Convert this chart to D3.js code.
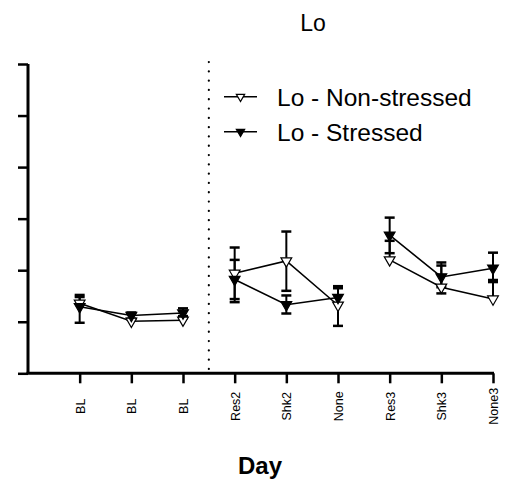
<!DOCTYPE html>
<html>
<head>
<meta charset="utf-8">
<script src="https://cdn.jsdelivr.net/npm/d3@7"></script>
<style>
  html, body { margin: 0; padding: 0; background: #fff; }
  svg { display: block; font-family: "Liberation Sans", Arial, sans-serif; }
</style>
</head>
<body>
<svg id="chart" width="508" height="482"></svg>
<script>
// ---- data ----
const categories = ["BL", "BL", "BL", "Res2", "Shk2", "None", "Res3", "Shk3", "None3"];
const segments = [[0, 3], [3, 6], [6, 9]]; // connected groups: baseline, day 2, day 3
const yTicks = [0, 1, 2, 3, 4, 5, 6];

const seriesNames = ["Lo - Non-stressed", "Lo - Stressed"];

const nonStressed      = [1.36, 1.01, 1.03, 1.94, 2.18, 1.32, 2.20, 1.67, 1.44];
const nonStressedUp    = [0.16, 0.04, 0.04, 0.50, 0.57, 0.33, 0.37, 0.42, 0.37];
const nonStressedDown  = [0.00, 0.00, 0.00, 0.50, 0.58, 0.40, 0.00, 0.12, 0.00];

const stressed         = [1.29, 1.12, 1.17, 1.82, 1.33, 1.47, 2.68, 1.87, 2.04];
const stressedUp       = [0.19, 0.06, 0.09, 0.38, 0.18, 0.22, 0.34, 0.28, 0.30];
const stressedDown     = [0.31, 0.06, 0.06, 0.44, 0.17, 0.00, 0.35, 0.20, 0.27];

const separatorAt = 3.5; // dotted vertical line between baseline and test days

// ---- layout ----
const svg = d3.select("#chart");
const x = d3.scaleLinear().domain([0, categories.length]).range([28, 493]);
const y = d3.scaleLinear().domain([0, 6]).range([373.3, 64]);

const series = [
  { name: seriesNames[0], values: nonStressed, up: nonStressedUp, down: nonStressedDown, fill: "#fff" },
  { name: seriesNames[1], values: stressed, up: stressedUp, down: stressedDown, fill: "#000" }
];

// title
svg.append("text")
  .attr("x", 313).attr("y", 31)
  .attr("text-anchor", "middle")
  .attr("font-size", 23)
  .text("Lo");

// dotted separator
svg.append("line")
  .attr("x1", x(separatorAt)).attr("x2", x(separatorAt))
  .attr("y1", y(6) - 2).attr("y2", y(0))
  .attr("stroke", "#000")
  .attr("stroke-width", 2.2)
  .attr("stroke-linecap", "round")
  .attr("stroke-dasharray", "0.1,9.2");

// y axis
const yAxis = d3.axisLeft(y).tickValues(yTicks).tickSize(10).tickFormat("");
const gy = svg.append("g").attr("transform", `translate(${x(0)},0)`).call(yAxis);
gy.select(".domain").attr("stroke-width", 3).attr("d", `M0,${y(6)}V${y(0)}`);
gy.selectAll(".tick line").attr("stroke-width", 2.5);

// x axis
const xAxis = d3.axisBottom(x).tickValues(d3.range(1, categories.length + 1))
  .tickSize(10).tickFormat(d => categories[d - 1]);
const gx = svg.append("g").attr("transform", `translate(0,${y(0)})`).call(xAxis);
gx.select(".domain").attr("stroke-width", 3).attr("d", `M${x(0) - 1.5},0H${x(categories.length) + 1}`);
gx.selectAll(".tick line").attr("stroke-width", 2.5);
gx.selectAll(".tick text")
  .attr("font-size", 12.5)
  .attr("font-family", "Liberation Sans, Arial, sans-serif")
  .attr("transform", "translate(0,33) rotate(-90)")
  .attr("x", 0).attr("y", 0)
  .attr("dy", "0.35em")
  .attr("text-anchor", "middle");

// x axis title
svg.append("text")
  .attr("x", 260).attr("y", 474)
  .attr("text-anchor", "middle")
  .attr("font-size", 24)
  .attr("font-weight", "bold")
  .text("Day");

const tri = d3.symbol().type(d3.symbolTriangle).size(50);
const triSmall = d3.symbol().type(d3.symbolTriangle).size(30);
const line = d3.line().x(d => x(d.i + 1)).y(d => y(d.v));
const capW = 5;

series.forEach(s => {
  const g = svg.append("g");
  // error bars
  s.values.forEach((v, i) => {
    const cx = x(i + 1);
    if (s.up[i] > 0) {
      g.append("line").attr("x1", cx).attr("x2", cx).attr("y1", y(v)).attr("y2", y(v + s.up[i]))
        .attr("stroke", "#000").attr("stroke-width", 2);
      g.append("line").attr("x1", cx - capW).attr("x2", cx + capW).attr("y1", y(v + s.up[i])).attr("y2", y(v + s.up[i]))
        .attr("stroke", "#000").attr("stroke-width", 2.5);
    }
    if (s.down[i] > 0) {
      g.append("line").attr("x1", cx).attr("x2", cx).attr("y1", y(v)).attr("y2", y(v - s.down[i]))
        .attr("stroke", "#000").attr("stroke-width", 2);
      g.append("line").attr("x1", cx - capW).attr("x2", cx + capW).attr("y1", y(v - s.down[i])).attr("y2", y(v - s.down[i]))
        .attr("stroke", "#000").attr("stroke-width", 2.5);
    }
  });
  // connecting lines within each group
  segments.forEach(([a, b]) => {
    const pts = s.values.slice(a, b).map((v, k) => ({ i: a + k, v }));
    g.append("path").datum(pts)
      .attr("d", line)
      .attr("fill", "none").attr("stroke", "#000").attr("stroke-width", 1.5);
  });
});

series.forEach(s => {
  svg.append("g").selectAll("path").data(s.values).join("path")
    .attr("d", tri)
    .attr("transform", (d, i) => `translate(${x(i + 1)},${y(d)}) rotate(180)`)
    .attr("fill", s.fill).attr("stroke", "#000").attr("stroke-width", 1.2);
});

// legend
const legendRows = [96.7, 131.7];
series.forEach((s, k) => {
  const ly = legendRows[k];
  svg.append("line").attr("x1", 224).attr("x2", 257).attr("y1", ly).attr("y2", ly)
    .attr("stroke", "#000").attr("stroke-width", 1.5);
  svg.append("path").attr("d", triSmall)
    .attr("transform", `translate(240.5,${ly}) rotate(180)`)
    .attr("fill", s.fill).attr("stroke", "#000").attr("stroke-width", 1.2);
  svg.append("text").attr("x", 277).attr("y", ly).attr("dy", "0.36em")
    .attr("font-size", 24.5).text(s.name);
});
</script>
</body>
</html>
